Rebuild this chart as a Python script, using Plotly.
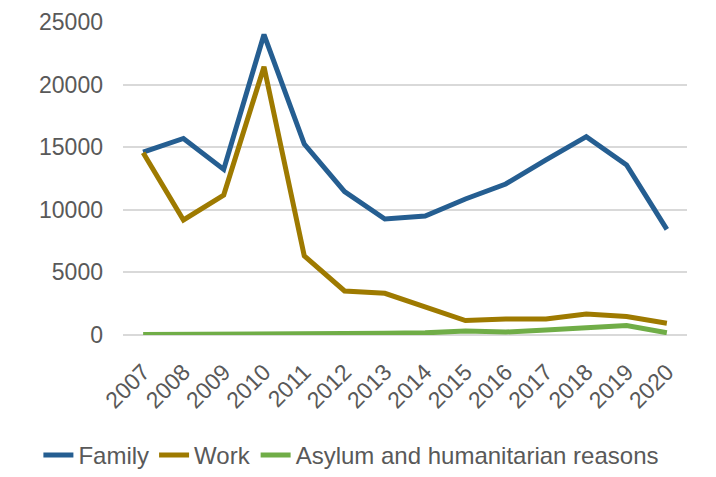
import plotly.graph_objects as go

years = [str(y) for y in range(2007, 2021)]
family = [14600, 15700, 13230, 24000, 15250, 11450, 9260, 9500, 10860, 12060, 13980, 15840, 13580, 8440]
work = [14550, 9190, 11180, 21430, 6310, 3520, 3330, 2250, 1150, 1280, 1280, 1680, 1470, 940]
asylum = [30, 30, 40, 50, 80, 110, 140, 170, 320, 240, 400, 590, 750, 180]

series = [
    ("Family", family, "#255E91"),
    ("Work", work, "#9E7A00"),
    ("Asylum and humanitarian reasons", asylum, "#70AD47"),
]

fig = go.Figure()
for name, vals, col in series:
    fig.add_trace(go.Scatter(x=years, y=vals, name=name, mode="lines",
                             line=dict(color=col, width=5)))

fig.update_layout(
    width=716, height=477,
    margin=dict(l=123, r=29, t=22, b=142, autoexpand=False),
    paper_bgcolor="white", plot_bgcolor="white",
    font=dict(family="Liberation Sans, Arial", size=23, color="#595959"),
    showlegend=True,
    legend=dict(orientation="h", x=-0.15, xanchor="left",
                y=-0.385, yanchor="middle",
                font=dict(size=24, color="#595959"), itemwidth=30,
                tracegroupgap=0),
)
fig.update_xaxes(type="category", range=[-0.5, 13.5], tickangle=-45, showgrid=False,
                 showline=False, ticks="", automargin=False, ticklabelstandoff=18,
                 tickfont=dict(size=23, color="#595959"))
fig.update_yaxes(range=[0, 25000], dtick=5000, showgrid=True, gridcolor="#D9D9D9",
                 gridwidth=1.5, zeroline=True, zerolinecolor="#D9D9D9", zerolinewidth=1.5,
                 showline=False, ticks="", tickformat="d", automargin=False,
                 ticklabelstandoff=19,
                 tickfont=dict(size=23, color="#595959"))

fig.write_html("out.html")
